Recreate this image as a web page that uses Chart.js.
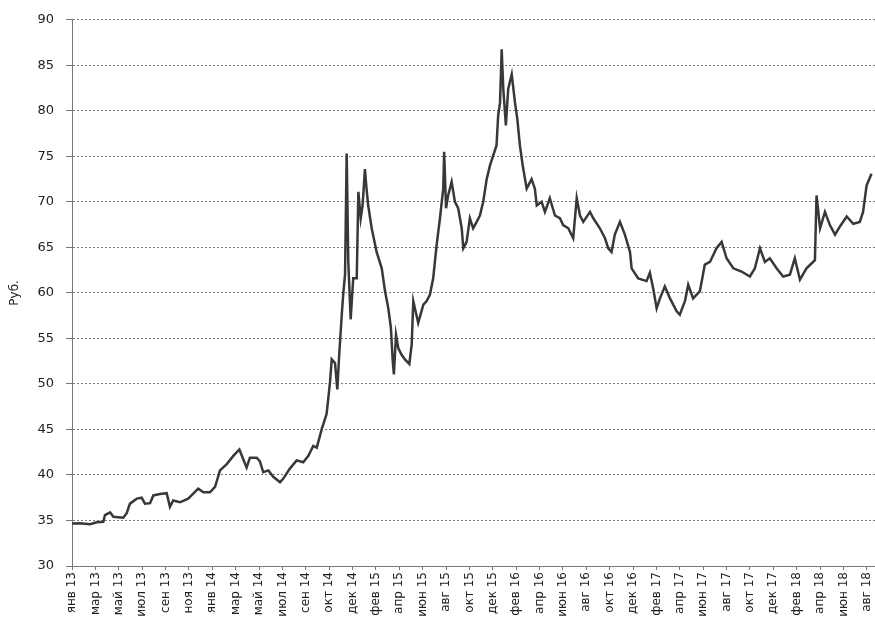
<!DOCTYPE html>
<html lang="ru">
  <head>
    <meta charset="UTF-8" />
    <title>Курс, руб.</title>
    <script src="https://cdn.jsdelivr.net/npm/chart.js"></script>
    <style>
      html, body { margin: 0; padding: 0; background: #fff; }
    </style>
  </head>
  <body>
    <canvas id="rubGraph" width="875" height="620"></canvas>
    <script>
      // подписи оси X (по одной на деление)
      const monthLabels = [
        "янв 13", "мар 13", "май 13", "июл 13", "сен 13", "ноя 13",
        "янв 14", "мар 14", "май 14", "июл 14", "сен 14", "окт 14", "дек 14",
        "фев 15", "апр 15", "июн 15", "авг 15", "окт 15", "дек 15",
        "фев 16", "апр 16", "июн 16", "авг 16", "окт 16", "дек 16",
        "фев 17", "апр 17", "июн 17", "авг 17", "окт 17", "дек 17",
        "фев 18", "апр 18", "июн 18", "авг 18"
      ];

      // положение точки в делениях оси X (0 = янв 13)
      const tickPos = [
        0, 0.34, 0.77, 1.06, 1.34, 1.41, 1.63, 1.77, 2.19, 2.34, 2.48, 2.77, 2.98,
        3.12, 3.34, 3.48, 3.76, 4.05, 4.19, 4.33, 4.62, 4.97, 5.4, 5.62, 5.9,
        6.12, 6.33, 6.62, 6.9, 7.16, 7.3, 7.47, 7.61, 7.9, 8.04, 8.18, 8.4, 8.61,
        8.9, 9.04, 9.32, 9.61, 9.89, 10.11, 10.32, 10.47, 10.68, 10.89, 10.96,
        11.04, 11.11, 11.25, 11.35, 11.43, 11.54, 11.6, 11.68, 11.75, 11.82,
        11.92, 12.03, 12.18, 12.25, 12.35, 12.43, 12.53, 12.6, 12.67, 12.82,
        13.03, 13.25, 13.39, 13.53, 13.64, 13.72, 13.77, 13.86, 13.96, 14.1,
        14.24, 14.43, 14.53, 14.6, 14.81, 15.03, 15.17, 15.31, 15.45, 15.6,
        15.74, 15.88, 15.92, 16.0, 16.09, 16.24, 16.38, 16.52, 16.67, 16.74,
        16.88, 17.02, 17.16, 17.31, 17.45, 17.59, 17.74, 17.88, 18.02, 18.16,
        18.23, 18.31, 18.38, 18.45, 18.56, 18.66, 18.81, 18.95, 19.05, 19.16,
        19.28, 19.38, 19.45, 19.66, 19.8, 19.88, 20.09, 20.23, 20.44, 20.66,
        20.87, 21.01, 21.23, 21.44, 21.59, 21.73, 21.87, 22.16, 22.3, 22.58,
        22.8, 22.94, 23.08, 23.22, 23.44, 23.65, 23.87, 23.94, 24.22, 24.58,
        24.72, 24.86, 25.01, 25.15, 25.36, 25.58, 25.86, 26.0, 26.22, 26.36,
        26.57, 26.86, 27.07, 27.29, 27.57, 27.79, 28.0, 28.29, 28.64, 29.0,
        29.21, 29.43, 29.64, 29.85, 30.14, 30.42, 30.71, 30.92, 31.14, 31.42,
        31.78, 31.85, 32.0, 32.21, 32.42, 32.64, 32.85, 33.14, 33.42, 33.7,
        33.84, 33.99, 34.2
      ];

      // курс, руб.
      const rub = [
        34.66, 34.7, 34.6, 34.8, 34.85, 35.6, 35.9, 35.4, 35.3, 35.8, 36.85, 37.4, 37.5,
        36.85, 36.9, 37.75, 37.9, 38.0, 36.5, 37.2, 37.0, 37.4, 38.5, 38.1, 38.1,
        38.7, 40.5, 41.2, 42.1, 42.8, 41.9, 40.8, 41.9, 41.9, 41.5, 40.3, 40.5, 39.8,
        39.2, 39.6, 40.7, 41.6, 41.4, 42.1, 43.2, 43.0, 45.0, 46.7, 48.3,
        50.3, 52.7, 52.3, 49.4, 53.2, 57.6, 59.8, 62.0, 75.3, 63.4,
        57.1, 61.6, 61.6, 71.1, 68.2, 69.6, 73.6, 71.45, 69.6, 67.1,
        64.5, 62.7, 60.2, 58.3, 56.2, 52.5, 51.05, 55.4, 53.9, 53.2,
        52.7, 52.2, 54.3, 59.1, 56.7, 58.7, 59.1, 59.8, 61.6, 65.3,
        68.2, 71.45, 75.5, 69.3, 70.7, 72.2, 70.0, 69.3, 67.1, 64.9,
        65.6, 68.2, 67.1, 67.8, 68.5, 70.0, 72.5, 74.0, 75.1, 76.2,
        79.5, 80.9, 86.75, 82.4, 78.4, 82.4, 84.0, 80.9, 79.1, 76.2,
        74.0, 72.5, 71.45, 72.5, 71.45, 69.6, 70.0, 68.9, 70.4, 68.5,
        68.2, 67.45, 67.1, 66.0, 70.4, 68.5, 67.8, 68.9, 68.2, 67.1,
        66.0, 64.9, 64.5, 66.4, 67.8, 66.4, 64.5, 62.7, 61.6, 61.3,
        62.2, 60.5, 58.3, 59.4, 60.7, 59.4, 58.0, 57.6, 59.1, 60.9,
        59.4, 60.2, 63.1, 63.4, 64.9, 65.6, 63.8, 62.7, 62.35, 61.8,
        62.7, 64.9, 63.4, 63.8, 62.7, 61.8, 62.0, 63.8, 61.45, 62.7,
        63.6, 70.7, 67.1, 68.9, 67.45, 66.4, 67.3, 68.4, 67.6, 67.8,
        68.9, 71.8, 73.1
      ];

      const yTicks = [30, 35, 40, 45, 50, 55, 60, 65, 70, 75, 80, 85, 90];

      const points = tickPos.map((x, i) => ({ x: x, y: rub[i] }));

      const ctx = document.getElementById("rubGraph").getContext("2d");
      new Chart(ctx, {
        type: "line",
        data: {
          datasets: [
            {
              data: points,
              borderColor: "#383838",
              borderWidth: 2.5,
              pointRadius: 0,
              tension: 0,
            },
          ],
        },
        options: {
          responsive: false,
          animation: false,
          layout: { padding: { top: 17, right: 0, bottom: 0, left: 0 } },
          plugins: {
            legend: { display: false },
            tooltip: { enabled: false },
          },
          scales: {
            x: {
              type: "linear",
              min: 0,
              max: 34.35,
              afterBuildTicks: (scale) => {
                scale.ticks = monthLabels.map((_, i) => ({ value: i }));
              },
              afterFit: (scale) => {
                scale.height = 54;
                scale.paddingLeft = 0;
                scale.paddingRight = 0;
              },
              ticks: {
                autoSkip: false,
                minRotation: 90,
                maxRotation: 90,
                padding: 2,
                color: "#222",
                font: { family: "DejaVu Sans", size: 12 },
                callback: (value) => monthLabels[value],
              },
              grid: {
                drawOnChartArea: false,
                tickLength: 4,
                color: "#777",
              },
              border: { color: "#777", dash: [2, 2] },
            },
            y: {
              min: 30,
              max: 90,
              afterBuildTicks: (scale) => {
                scale.ticks = yTicks.map((v) => ({ value: v }));
              },
              afterFit: (scale) => {
                scale.width = 72;
              },
              title: {
                display: true,
                text: "Руб.",
                color: "#222",
                font: { family: "DejaVu Sans", size: 12 },
                padding: { top: 8, bottom: 0 },
              },
              ticks: {
                color: "#222",
                padding: 12,
                font: { family: "DejaVu Sans", size: 13 },
              },
              grid: {
                color: "#7a7a7a",
                tickLength: 6,
              },
              border: { color: "#777", dash: [2, 2] },
            },
          },
        },
      });
    </script>
  </body>
</html>
